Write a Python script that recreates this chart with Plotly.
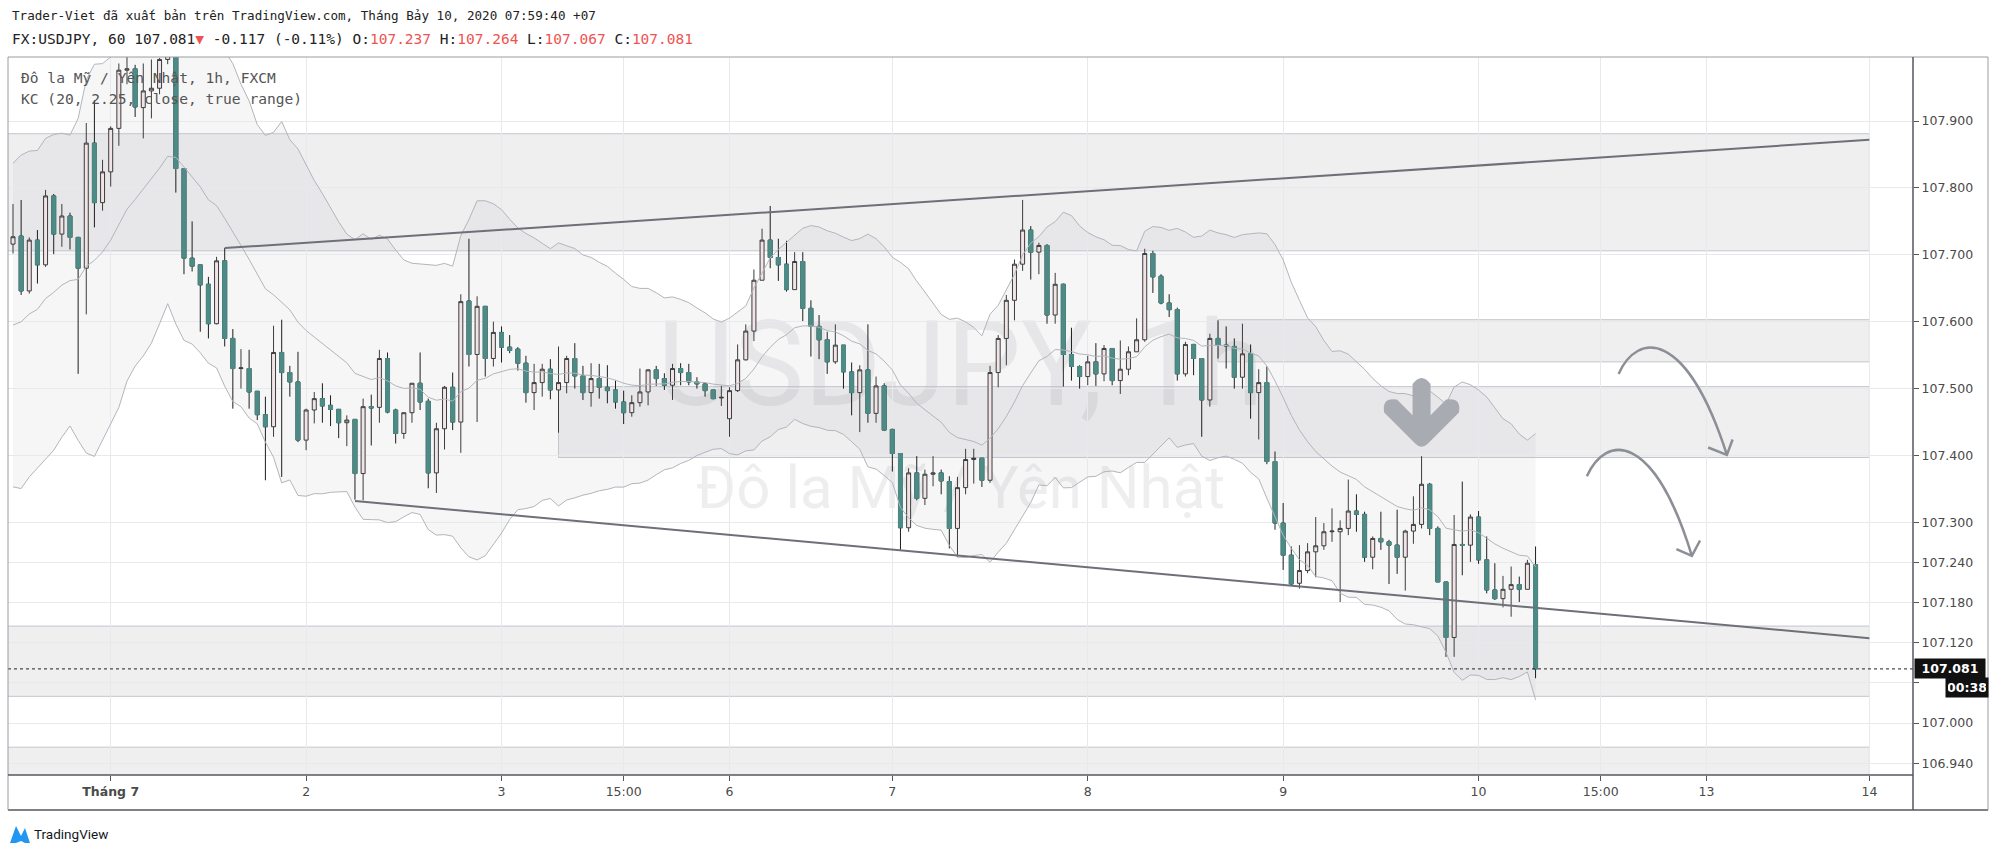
import pandas as pd
import plotly.graph_objects as go

# ---------------- data ----------------
START = "2020-06-30 12:00"
END_AXIS = "2020-07-14 06:00"

OPEN = [
107.716,107.728,107.646,107.722,107.685,107.788,107.731,107.758,107.726,107.680,
107.867,107.778,107.824,107.889,107.976,107.978,107.920,107.945,107.949,107.992,
108.015,107.829,107.695,107.685,107.656,107.597,107.691,107.575,107.530,107.530,
107.496,107.461,107.443,107.554,107.524,107.510,107.423,107.468,107.485,107.475,
107.469,107.449,107.454,107.373,107.473,107.472,107.545,107.468,107.433,107.464,
107.508,107.481,107.374,107.440,107.502,107.450,107.631,107.551,107.623,107.545,
107.584,107.562,107.559,107.538,107.494,107.509,107.529,107.498,107.509,107.545,
107.519,107.494,107.515,107.502,107.498,107.480,107.464,107.479,107.495,107.528,
107.515,107.505,107.530,107.524,107.510,107.507,107.498,107.486,107.455,107.497,
107.543,107.586,107.662,107.722,107.696,107.686,107.648,107.690,107.620,107.593,
107.573,107.540,107.565,107.525,107.494,107.528,107.463,107.504,107.439,107.403,
107.292,107.374,107.336,107.372,107.374,107.361,107.291,107.352,107.394,107.396,
107.363,107.524,107.575,107.632,107.686,107.737,107.704,107.714,107.610,107.656,
107.551,107.533,107.518,107.540,107.522,107.560,107.512,107.529,107.555,107.573,
107.702,107.668,107.628,107.618,107.522,107.566,107.545,107.483,107.575,107.565,
107.563,107.517,107.552,107.494,107.509,107.391,107.299,107.251,107.209,107.228,
107.256,107.265,107.286,107.286,107.291,107.317,107.312,107.248,107.276,107.271,
107.266,107.248,107.287,107.297,107.357,107.291,107.211,107.128,107.267,107.266,
107.308,107.244,107.199,107.186,107.200,107.207,107.200,107.237]

HIGH = [
107.776,107.782,107.726,107.737,107.797,107.791,107.776,107.763,107.727,107.897,
107.931,107.842,107.892,107.986,107.996,107.984,107.986,107.992,107.994,108.030,
108.025,107.829,107.750,107.685,107.667,107.697,107.710,107.589,107.559,107.558,
107.496,107.488,107.594,107.603,107.534,107.555,107.470,107.495,107.508,107.490,
107.469,107.460,107.454,107.485,107.491,107.558,107.554,107.470,107.464,107.508,
107.554,107.485,107.449,107.504,107.524,107.641,107.724,107.638,107.623,107.600,
107.593,107.580,107.562,107.549,107.537,107.537,107.544,107.563,107.549,107.568,
107.534,107.538,107.537,107.535,107.512,107.497,107.490,107.530,107.529,107.534,
107.523,107.537,107.538,107.537,107.517,107.509,107.498,107.504,107.502,107.566,
107.596,107.678,107.739,107.773,107.724,107.721,107.704,107.704,107.632,107.610,
107.585,107.596,107.565,107.539,107.535,107.596,107.518,107.508,107.440,107.403,
107.381,107.399,107.379,107.399,107.379,107.369,107.368,107.410,107.410,107.396,
107.534,107.580,107.640,107.693,107.782,107.743,107.718,107.716,107.673,107.657,
107.591,107.535,107.549,107.568,107.565,107.560,107.572,107.563,107.605,107.709,
107.706,107.671,107.641,107.621,107.570,107.567,107.545,107.582,107.602,107.593,
107.575,107.597,107.566,107.529,107.533,107.406,107.329,107.264,107.266,107.269,
107.308,107.299,107.321,107.303,107.364,107.342,107.316,107.279,107.316,107.274,
107.319,107.289,107.339,107.399,107.359,107.294,107.211,107.311,107.361,107.312,
107.317,107.279,107.239,107.220,107.234,107.219,107.244,107.264]

LOW = [
107.702,107.640,107.642,107.657,107.682,107.701,107.712,107.708,107.522,107.611,
107.741,107.766,107.802,107.863,107.955,107.906,107.874,107.904,107.940,107.985,
107.793,107.671,107.675,107.585,107.575,107.596,107.563,107.470,107.500,107.470,
107.453,107.363,107.428,107.368,107.488,107.420,107.408,107.448,107.449,107.444,
107.426,107.414,107.334,107.333,107.415,107.449,107.463,107.418,107.425,107.449,
107.468,107.351,107.344,107.409,107.438,107.404,107.533,107.450,107.518,107.533,
107.539,107.553,107.527,107.479,107.468,107.488,107.484,107.434,107.493,107.500,
107.483,107.473,107.485,107.478,107.470,107.447,107.458,107.473,107.475,107.504,
107.498,107.483,107.505,107.505,107.500,107.488,107.484,107.474,107.428,107.495,
107.542,107.571,107.662,107.680,107.661,107.645,107.648,107.601,107.548,107.544,
107.522,107.537,107.500,107.460,107.435,107.449,107.449,107.437,107.376,107.259,
107.286,107.333,107.326,107.354,107.342,107.261,107.248,107.342,107.358,107.353,
107.359,107.502,107.535,107.602,107.676,107.663,107.671,107.597,107.597,107.503,
107.512,107.500,107.505,107.504,107.511,107.505,107.492,107.520,107.555,107.570,
107.643,107.626,107.607,107.512,107.518,107.520,107.428,107.473,107.545,107.530,
107.500,107.500,107.455,107.424,107.387,107.289,107.229,107.205,107.201,107.224,
107.218,107.259,107.271,107.181,107.281,107.286,107.241,107.230,107.259,107.208,
107.223,107.198,107.268,107.291,107.281,107.211,107.099,107.099,107.221,107.241,
107.238,107.194,107.184,107.173,107.159,107.181,107.200,107.067]

CLOSE = [
107.727,107.646,107.722,107.685,107.788,107.731,107.758,107.726,107.680,107.867,
107.778,107.824,107.889,107.976,107.978,107.921,107.945,107.949,107.992,108.015,
107.829,107.695,107.683,107.655,107.597,107.691,107.575,107.530,107.531,107.495,
107.461,107.443,107.554,107.524,107.510,107.423,107.468,107.485,107.474,107.469,
107.449,107.453,107.373,107.473,107.471,107.545,107.465,107.433,107.464,107.508,
107.480,107.374,107.440,107.502,107.450,107.630,107.551,107.623,107.545,107.584,
107.562,107.557,107.538,107.494,107.509,107.529,107.498,107.509,107.545,107.519,
107.494,107.515,107.502,107.497,107.480,107.464,107.479,107.495,107.528,107.515,
107.505,107.530,107.524,107.510,107.507,107.497,107.485,107.487,107.497,107.543,
107.586,107.662,107.722,107.696,107.685,107.648,107.690,107.620,107.593,107.573,
107.540,107.565,107.525,107.494,107.528,107.463,107.504,107.438,107.403,107.292,
107.374,107.336,107.372,107.374,107.362,107.291,107.352,107.394,107.396,107.363,
107.524,107.575,107.632,107.686,107.737,107.704,107.714,107.610,107.656,107.551,
107.533,107.518,107.540,107.522,107.560,107.512,107.529,107.555,107.573,107.702,
107.667,107.628,107.618,107.522,107.566,107.545,107.483,107.575,107.565,107.564,
107.517,107.552,107.494,107.509,107.391,107.299,107.251,107.208,107.228,107.256,
107.265,107.286,107.287,107.291,107.317,107.312,107.248,107.276,107.271,107.266,
107.248,107.287,107.297,107.357,107.291,107.211,107.128,107.267,107.266,107.308,
107.244,107.199,107.186,107.200,107.207,107.200,107.239,107.081]

# Keltner channel settings shown on the chart, seeds read at the first visible bar
KC_LEN, KC_MULT = 20, 2.25
KC_SEED_MID, KC_SEED_RANGE = 107.595, 0.1075

TICK_TIMES = ["2020-07-01 00:00", "2020-07-02 00:00", "2020-07-03 00:00", "2020-07-03 15:00",
              "2020-07-06 04:00", "2020-07-07 00:00", "2020-07-08 00:00", "2020-07-09 00:00",
              "2020-07-10 00:00", "2020-07-10 15:00", "2020-07-13 04:00", "2020-07-14 00:00"]
TICK_TEXT = ["<b>Tháng 7</b>", "2", "3", "15:00", "6", "7", "8", "9", "10", "15:00", "13", "14"]

PRICE_TICKS = [107.9, 107.8, 107.7, 107.6, 107.5, 107.4, 107.3, 107.24, 107.18, 107.12, 107.06, 107.0, 106.94]
PRICE_TEXT = ["107.900", "107.800", "107.700", "107.600", "107.500", "107.400", "107.300",
              "107.240", "107.180", "107.120", "", "107.000", "106.940"]   # 107.060 hidden under the price tag
Y_RANGE = [106.9224, 107.9957]

# drawings (time, price)
TREND_UP = [("2020-07-01 14:00", 107.710), ("2020-07-14 00:00", 107.872)]
TREND_DN = [("2020-07-02 06:00", 107.332), ("2020-07-14 00:00", 107.127)]
ZONES = [  # (start time or None = off-chart left, end time, top, bottom)
    (None, "2020-07-14 00:00", 107.881, 107.706),
    ("2020-07-08 16:00", "2020-07-14 00:00", 107.603, 107.540),
    ("2020-07-03 07:00", "2020-07-14 00:00", 107.503, 107.397),
    (None, "2020-07-14 00:00", 107.145, 107.040),
    (None, "2020-07-14 00:00", 106.964, 106.880),
]
BIG_ARROW_AT = ("2020-07-09 17:00", 107.465)
CURVE_1 = [(197.2, 107.522), (199.5, 107.585), (205.5, 107.590), (210.5, 107.401)]
HEAD_1 = [(208.2, 107.412), (210.5, 107.401), (211.2, 107.424)]
CURVE_2 = [(193.3, 107.369), (195.6, 107.432), (201.5, 107.437), (206.2, 107.250)]
HEAD_2 = [(204.3, 107.260), (206.2, 107.250), (207.2, 107.273)]

LAST_PRICE = 107.081
COUNTDOWN = "00:38"

# ---------------- time axis (trading hours only, weekend removed) ----------------
hours = pd.date_range(START, END_AXIS, freq="h")
def trading(t):
    wd, h = t.weekday(), t.hour
    if wd == 5 and h >= 4: return False
    if wd == 6: return False
    if wd == 0 and h < 4: return False
    return True
times = [t for t in hours if trading(t)]
pos = {t.strftime("%Y-%m-%d %H:%M"): i for i, t in enumerate(times)}
N = len(CLOSE)
X = list(range(N))

# ---------------- Keltner channel ----------------
alpha = 2.0 / (KC_LEN + 1)
mid, rng = [KC_SEED_MID], [KC_SEED_RANGE]
for i in range(1, N):
    tr = max(HIGH[i] - LOW[i], abs(HIGH[i] - CLOSE[i-1]), abs(LOW[i] - CLOSE[i-1]))
    mid.append(mid[-1] + alpha * (CLOSE[i] - mid[-1]))
    rng.append(rng[-1] + alpha * (tr - rng[-1]))
upper = [m + KC_MULT * r for m, r in zip(mid, rng)]
lower = [m - KC_MULT * r for m, r in zip(mid, rng)]

# ---------------- figure ----------------
W, H = 1996, 856
PL, PR, PT, PB = 8, 1913, 57, 775
X_RANGE = [-5 / 8.142, (PR - 13) / 8.142]
def pxx(p): return (p - PL) / (PR - PL)
def pxy(p): return (PB - p) / (PB - PT)

TEAL = "#4d8b86"
HOLLOW = "#f1e4e7"
GRAY_ZONE = "rgba(120,123,134,0.12)"
ZONE_LINE = "#c4c6cd"

fig = go.Figure()

fig.add_trace(go.Scatter(x=X, y=upper, mode="lines", line=dict(color="#b3b5bc", width=1), hoverinfo="skip"))
fig.add_trace(go.Scatter(x=X, y=mid, mode="lines", line=dict(color="#b3b5bc", width=1), hoverinfo="skip"))
fig.add_trace(go.Scatter(x=X, y=lower, mode="lines", line=dict(color="#b3b5bc", width=1), hoverinfo="skip"))

fig.add_trace(go.Candlestick(
    x=X, open=OPEN, high=HIGH, low=LOW, close=CLOSE,
    increasing=dict(line=dict(color="#3c3c3c", width=1), fillcolor=HOLLOW),
    decreasing=dict(line=dict(color="#1e1e1e", width=1), fillcolor=TEAL),
    whiskerwidth=0, hoverinfo="skip"))
# teal bodies without dark outline for falling bars
dn = [c < o for o, c in zip(OPEN, CLOSE)]
fig.add_trace(go.Candlestick(
    x=X,
    open=[o if d else None for o, d in zip(OPEN, dn)],
    high=[o if d else None for o, d in zip(OPEN, dn)],
    low=[c if d else None for c, d in zip(CLOSE, dn)],
    close=[c if d else None for c, d in zip(CLOSE, dn)],
    increasing=dict(line=dict(color=TEAL, width=1), fillcolor=TEAL),
    decreasing=dict(line=dict(color=TEAL, width=1), fillcolor=TEAL),
    whiskerwidth=0, hoverinfo="skip"))

shapes = []
# KC background fill
path = "M " + " L ".join(f"{x},{y:.4f}" for x, y in zip(X, upper))
path += " L " + " L ".join(f"{x},{y:.4f}" for x, y in zip(reversed(X), reversed(lower))) + " Z"
shapes.append(dict(type="path", xref="x", yref="y", path=path, fillcolor="rgba(120,123,134,0.065)",
                   line=dict(width=0), layer="below"))
# zones
for s, e, top, bot in ZONES:
    x0 = X_RANGE[0] - 3 if s is None else pos[s]
    shapes.append(dict(type="rect", xref="x", yref="y", x0=x0, x1=pos[e], y0=bot, y1=top,
                       fillcolor=GRAY_ZONE, line=dict(color=ZONE_LINE, width=1), layer="below"))
# trend lines
for (t0, p0), (t1, p1) in (TREND_UP, TREND_DN):
    shapes.append(dict(type="line", xref="x", yref="y", x0=pos[t0], y0=p0, x1=pos[t1], y1=p1,
                       line=dict(color="#6e7078", width=2)))
# curved arrows
for cv, hd in ((CURVE_1, HEAD_1), (CURVE_2, HEAD_2)):
    (a, b), (c, d), (e, f), (g, h) = cv
    shapes.append(dict(type="path", xref="x", yref="y",
                       path=f"M {a},{b} C {c},{d} {e},{f} {g},{h}",
                       line=dict(color="#8d8f97", width=2.5)))
    shapes.append(dict(type="path", xref="x", yref="y",
                       path="M " + " L ".join(f"{x},{y}" for x, y in hd),
                       line=dict(color="#8d8f97", width=2.5)))
# big down arrow (pixel-sized, anchored to the bar/price)
arrow_path = ("M -9,28 Q 0,40 9,28 L 9,-3.2 L 24.6,12.4 Q 40,15 37.4,-0.4 L 6.4,-31.4 "
              "Q 0,-38 -6.4,-31.4 L -37.4,-0.4 Q -40,15 -24.6,12.4 L -9,-3.2 Z")
shapes.append(dict(type="path", xref="x", yref="y", xsizemode="pixel", ysizemode="pixel",
                   xanchor=pos[BIG_ARROW_AT[0]], yanchor=BIG_ARROW_AT[1], path=arrow_path,
                   fillcolor="#a9abb3", line=dict(width=0)))
# last price dotted line
shapes.append(dict(type="line", xref="paper", yref="y", x0=0, x1=1, y0=LAST_PRICE, y1=LAST_PRICE,
                   line=dict(color="#222222", width=1, dash="dot")))
# watermark (behind candles)
shapes.append(dict(type="rect", xref="paper", yref="paper", x0=0.2, x1=0.8,
                   y0=pxy(356) - 0.05, y1=pxy(356) + 0.05, line=dict(width=0), layer="below",
                   label=dict(text="USDJPY, 1h", font=dict(family="Roboto", size=118, color="rgba(120,123,134,0.13)"),
                              textposition="middle center")))
shapes.append(dict(type="rect", xref="paper", yref="paper", x0=0.2, x1=0.8,
                   y0=pxy(483) - 0.04, y1=pxy(483) + 0.04, line=dict(width=0), layer="below",
                   label=dict(text="Đô la Mỹ / Yên Nhật", font=dict(family="Roboto", size=60, color="rgba(120,123,134,0.13)"),
                              textposition="middle center")))
# frame lines
frame = "#9a9ca3"
shapes += [
    dict(type="line", xref="paper", yref="paper", x0=pxx(PL), x1=pxx(1988), y0=pxy(57), y1=pxy(57), line=dict(color=frame, width=1)),
    dict(type="line", xref="paper", yref="paper", x0=pxx(PL), x1=pxx(1988), y0=pxy(810), y1=pxy(810), line=dict(color="#55575e", width=1.5)),
    dict(type="line", xref="paper", yref="paper", x0=pxx(PL), x1=pxx(PL), y0=pxy(57), y1=pxy(810), line=dict(color=frame, width=1)),
    dict(type="line", xref="paper", yref="paper", x0=pxx(1988), x1=pxx(1988), y0=pxy(57), y1=pxy(810), line=dict(color=frame, width=1)),
    dict(type="line", xref="paper", yref="paper", x0=pxx(PL), x1=pxx(PR), y0=0, y1=0, line=dict(color="#55575e", width=1.5)),
    dict(type="line", xref="paper", yref="paper", x0=1, x1=1, y0=pxy(57), y1=pxy(810), line=dict(color="#55575e", width=1.5)),
]
# TradingView logo
shapes.append(dict(type="path", xref="paper", yref="paper",
                   path=f"M {pxx(10)},{pxy(843)} L {pxx(16)},{pxy(826)} L {pxx(21)},{pxy(836)} L {pxx(25)},{pxy(828)} "
                        f"L {pxx(30)},{pxy(843)} L {pxx(25)},{pxy(843)} L {pxx(21)},{pxy(841)} L {pxx(16)},{pxy(843)} Z",
                   fillcolor="#2196f3", line=dict(width=0)))

MONO = "DejaVu Sans Mono"
RED = "#ef5350"
ann = []
ann.append(dict(xref="paper", yref="paper", x=pxx(10), y=pxy(15), xanchor="left", yanchor="middle", showarrow=False,
                text="Trader-Viet đã xuất bản trên TradingView.com, Tháng Bảy 10, 2020 07:59:40 +07",
                font=dict(family=MONO, size=12.6, color="#222")))
line2 = (f"FX:USDJPY, 60 107.081<span style='color:{RED}'>▼</span> -0.117 (-0.11%) "
         f"O:<span style='color:{RED}'>107.237</span> H:<span style='color:{RED}'>107.264</span> "
         f"L:<span style='color:{RED}'>107.067</span> C:<span style='color:{RED}'>107.081</span>")
ann.append(dict(xref="paper", yref="paper", x=pxx(10), y=pxy(39), xanchor="left", yanchor="middle", showarrow=False,
                text=line2, font=dict(family=MONO, size=14.5, color="#222")))
ann.append(dict(xref="paper", yref="paper", x=pxx(19), y=pxy(77), xanchor="left", yanchor="middle", showarrow=False,
                text="Đô la Mỹ / Yên Nhật, 1h, FXCM", font=dict(family=MONO, size=14.6, color="#555")))
ann.append(dict(xref="paper", yref="paper", x=pxx(19), y=pxy(98), xanchor="left", yanchor="middle", showarrow=False,
                text="KC (20, 2.25, close, true range)", font=dict(family=MONO, size=14.6, color="#555")))
ann.append(dict(xref="paper", yref="y", x=pxx(1914), y=LAST_PRICE, xanchor="left", yanchor="middle", showarrow=False,
                text="<b>107.081</b>", bgcolor="#111", font=dict(family="DejaVu Sans", size=12.5, color="white"),
                borderpad=2, width=66))
ann.append(dict(xref="paper", yref="paper", x=pxx(1945), y=pxy(687), xanchor="left", yanchor="middle", showarrow=False,
                text=f"<b>{COUNTDOWN}</b>", bgcolor="#111", font=dict(family="DejaVu Sans", size=12.5, color="white"),
                borderpad=2, width=38))
ann.append(dict(xref="paper", yref="paper", x=pxx(32), y=pxy(834), xanchor="left", yanchor="middle", showarrow=False,
                text="TradingView", font=dict(family="Roboto", size=13.5, color="#131722")))

fig.update_layout(
    width=W, height=H, autosize=False,
    margin=dict(l=PL, r=W - PR, t=PT, b=H - PB),
    paper_bgcolor="white", plot_bgcolor="white",
    showlegend=False, boxgap=0.3,
    shapes=shapes, annotations=ann,
    xaxis=dict(range=X_RANGE, tickmode="array", tickvals=[pos[t] for t in TICK_TIMES], ticktext=TICK_TEXT,
               showgrid=True, gridcolor="#e8e9ed", gridwidth=1, zeroline=False, showline=False,
               ticks="outside", ticklen=5, tickcolor="#555", rangeslider=dict(visible=False),
               tickfont=dict(family="DejaVu Sans", size=12.5, color="#4a4a4a")),
    yaxis=dict(range=Y_RANGE, side="right", tickmode="array", tickvals=PRICE_TICKS,
               ticktext=PRICE_TEXT,
               showgrid=True, gridcolor="#e8e9ed", gridwidth=1, zeroline=False, showline=False,
               ticks="outside", ticklen=5, tickcolor="#555",
               tickfont=dict(family="DejaVu Sans", size=12.5, color="#4a4a4a")),
)

fig.write_html("out.html")
